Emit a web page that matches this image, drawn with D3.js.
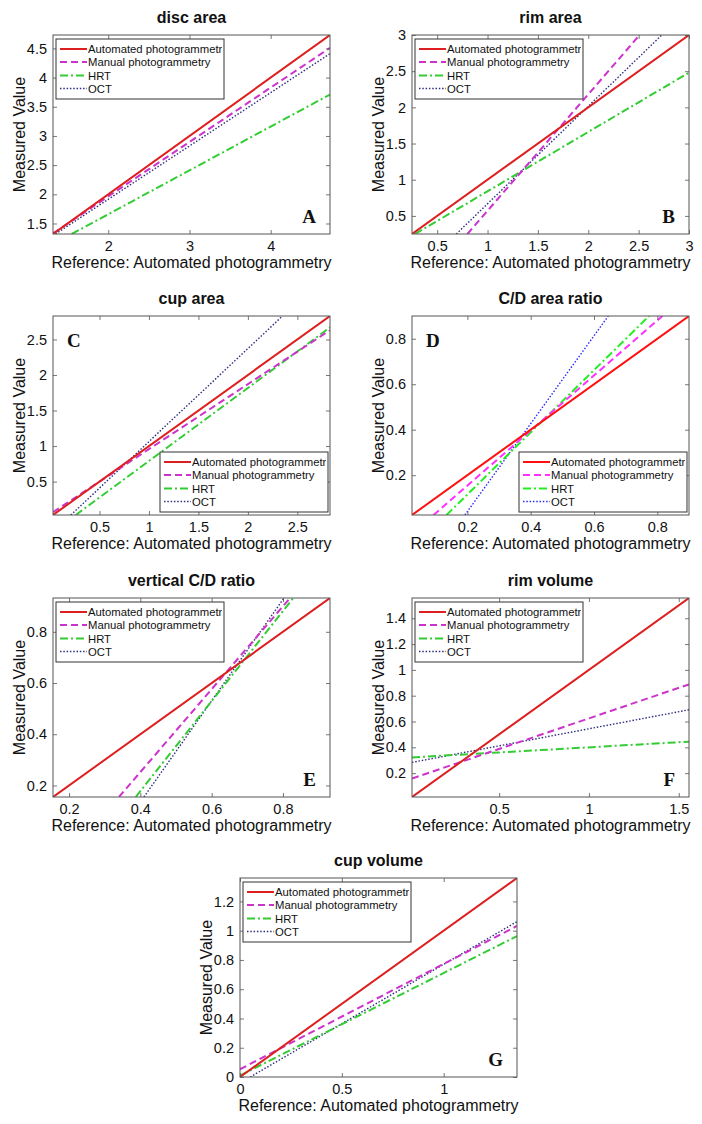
<!DOCTYPE html>
<html>
<head>
<meta charset="utf-8">
<script src="https://cdn.jsdelivr.net/npm/d3@7"></script>
<style>
  html, body { margin: 0; padding: 0; background: #fff; }
  svg { display: block; }
  text { font-family: "Liberation Sans", Arial, Helvetica, sans-serif; }
</style>
</head>
<body>
<svg id="chart" width="702" height="1124"></svg>
<script>
// ---------------- DATA ----------------
const titles = ["disc area", "rim area", "cup area", "C/D area ratio", "vertical C/D ratio", "rim volume", "cup volume"];
const letters = ["A", "B", "C", "D", "E", "F", "G"];
const seriesNames = ["Automated photogrammetry", "Manual photogrammetry", "HRT", "OCT"];

// axis domains (same range on x and y)
const domains = [[1.32, 4.73], [0.25, 3.0], [0.03, 2.83], [0.025, 0.9], [0.155, 0.932], [0.015, 1.557], [0, 1.36]];

const xTicks = [
  [2, 3, 4],
  [0.5, 1, 1.5, 2, 2.5, 3],
  [0.5, 1, 1.5, 2, 2.5],
  [0.2, 0.4, 0.6, 0.8],
  [0.2, 0.4, 0.6, 0.8],
  [0.5, 1, 1.5],
  [0, 0.5, 1]
];
const yTicks = [
  [1.5, 2, 2.5, 3, 3.5, 4, 4.5],
  [0.5, 1, 1.5, 2, 2.5, 3],
  [0.5, 1, 1.5, 2, 2.5],
  [0.2, 0.4, 0.6, 0.8],
  [0.2, 0.4, 0.6, 0.8],
  [0.2, 0.4, 0.6, 0.8, 1, 1.2, 1.4],
  [0, 0.2, 0.4, 0.6, 0.8, 1, 1.2]
];

// endpoints [[x0,y0],[x1,y1]] of each regression line, per panel
const automatedLine = [
  [[1.32, 1.32], [4.73, 4.73]],
  [[0.25, 0.25], [3.0, 3.0]],
  [[0.03, 0.03], [2.83, 2.83]],
  [[0.025, 0.025], [0.9, 0.9]],
  [[0.155, 0.155], [0.932, 0.932]],
  [[0.015, 0.015], [1.557, 1.557]],
  [[0, 0], [1.36, 1.36]]
];
const manualLine = [
  [[1.32, 1.33], [4.73, 4.51]],
  [[0.80, 0.25], [2.51, 3.0]],
  [[0.03, 0.07], [2.83, 2.63]],
  [[0.093, 0.025], [0.816, 0.9]],
  [[0.34, 0.155], [0.82, 0.932]],
  [[0.015, 0.158], [1.557, 0.888]],
  [[0, 0.053], [1.36, 1.032]]
];
const hrtLine = [
  [[1.55, 1.32], [4.73, 3.71]],
  [[0.28, 0.25], [3.0, 2.48]],
  [[0.26, 0.03], [2.83, 2.67]],
  [[0.134, 0.025], [0.774, 0.9]],
  [[0.387, 0.155], [0.829, 0.932]],
  [[0.015, 0.322], [1.557, 0.444]],
  [[0, 0.01], [1.36, 0.963]]
];
const octLine = [
  [[1.35, 1.32], [4.73, 4.41]],
  [[0.69, 0.25], [2.73, 3.0]],
  [[0.21, 0.03], [2.35, 2.83]],
  [[0.192, 0.025], [0.645, 0.9]],
  [[0.41, 0.155], [0.803, 0.932]],
  [[0.015, 0.283], [1.557, 0.691]],
  [[0.05, 0], [1.36, 1.062]]
];

// ---------------- LAYOUT / STYLE ----------------
const W = 277, H = 199;
const boxes = [
  { l: 53, t: 35 }, { l: 412, t: 35 },
  { l: 53, t: 316 }, { l: 412, t: 316 },
  { l: 53, t: 598 }, { l: 412, t: 598 },
  { l: 240, t: 878 }
];
const legendAtBottom = [false, false, true, true, false, false, false];
const letterTop = [false, false, true, true, false, false, false];

const styleDefault = [
  { color: "#dd1f1f", width: 2, dash: null },
  { color: "#cc33cc", width: 2, dash: "7,4" },
  { color: "#33cc33", width: 2, dash: "8,3,2,3" },
  { color: "#2e2e80", width: 1.4, dash: "1.5,1.8" }
];
const styleD = [
  { color: "#ff1010", width: 2, dash: null },
  { color: "#ff30ff", width: 2, dash: "7,4" },
  { color: "#22ee22", width: 2, dash: "8,3,2,3" },
  { color: "#2a2aff", width: 1.4, dash: "1.5,1.8" }
];

const svg = d3.select("#chart");
svg.append("rect").attr("width", 702).attr("height", 1124).attr("fill", "#fff");

const fmt = d3.format("~g");
const lineSets = [automatedLine, manualLine, hrtLine, octLine];

titles.forEach((title, i) => {
  const b = boxes[i];
  const dom = domains[i];
  const x = d3.scaleLinear().domain(dom).range([0, W]);
  const y = d3.scaleLinear().domain(dom).range([H, 0]);
  const styles = i === 3 ? styleD : styleDefault;

  const g = svg.append("g").attr("transform", `translate(${b.l},${b.t})`);

  const clipId = "clip" + i;
  g.append("clipPath").attr("id", clipId)
    .append("rect").attr("width", W).attr("height", H);

  const lg = g.append("g").attr("clip-path", `url(#${clipId})`);
  const lineGen = d3.line().x(d => x(d[0])).y(d => y(d[1]));
  [3, 2, 1, 0].forEach(s => {
    const st = styles[s];
    lg.append("path")
      .attr("d", lineGen(lineSets[s][i]))
      .attr("fill", "none")
      .attr("stroke", st.color)
      .attr("stroke-width", st.width)
      .attr("stroke-dasharray", st.dash);
  });

  const axB = d3.axisBottom(x).tickValues(xTicks[i]).tickFormat(fmt).tickSizeInner(-4).tickSizeOuter(0).tickPadding(7);
  const axL = d3.axisLeft(y).tickValues(yTicks[i]).tickFormat(fmt).tickSizeInner(-4).tickSizeOuter(0).tickPadding(6);
  const axT = d3.axisTop(x).tickValues(xTicks[i]).tickFormat("").tickSizeInner(-4).tickSizeOuter(0);
  const axR = d3.axisRight(y).tickValues(yTicks[i]).tickFormat("").tickSizeInner(-4).tickSizeOuter(0);

  const gb = g.append("g").attr("transform", `translate(0,${H})`).call(axB);
  const gl = g.append("g").call(axL);
  const gt = g.append("g").call(axT);
  const gr = g.append("g").attr("transform", `translate(${W},0)`).call(axR);
  [gb, gl, gt, gr].forEach(a => {
    a.select(".domain").remove();
    a.selectAll(".tick line").attr("stroke", "#555").attr("stroke-width", 0.8);
    a.selectAll(".tick text")
      .attr("fill", "#111")
      .style("font-size", "14.5px")
      .style("font-family", "'Liberation Sans', Arial, sans-serif");
  });

  g.append("rect").attr("width", W).attr("height", H)
    .attr("fill", "none").attr("stroke", "#555").attr("stroke-width", 1);

  g.append("text").attr("x", W / 2).attr("y", -12)
    .attr("text-anchor", "middle")
    .style("font-size", "16px").style("font-weight", "bold")
    .attr("fill", "#111")
    .text(title);

  g.append("text").attr("x", W / 2).attr("y", H + 34)
    .attr("text-anchor", "middle")
    .style("font-size", "16px").attr("fill", "#111")
    .text("Reference: Automated photogrammetry");
  g.append("text")
    .attr("transform", `translate(-28,${H / 2}) rotate(-90)`)
    .attr("text-anchor", "middle")
    .style("font-size", "16px").attr("fill", "#111")
    .text("Measured Value");

  const lt = g.append("text")
    .style("font-family", "'Liberation Serif', 'Times New Roman', serif")
    .style("font-weight", "bold").style("font-size", "19px")
    .attr("fill", "#111")
    .text(letters[i]);
  if (letterTop[i]) {
    lt.attr("x", 14).attr("y", 31).attr("text-anchor", "start");
  } else {
    lt.attr("x", W - 14).attr("y", H - 11).attr("text-anchor", "end");
  }

  const LW = 168, LH = 60;
  const lx = legendAtBottom[i] ? W - LW - 2 : 3;
  const ly = legendAtBottom[i] ? H - LH - 3 : 4;
  const leg = g.append("g").attr("transform", `translate(${lx},${ly})`);
  const lclip = "lclip" + i;
  leg.append("clipPath").attr("id", lclip)
    .append("rect").attr("width", LW - 2).attr("height", LH);
  leg.append("rect").attr("width", LW).attr("height", LH)
    .attr("fill", "#fff").attr("stroke", "#333").attr("stroke-width", 1);
  const rows = [10, 23, 36.5, 49.5];
  seriesNames.forEach((name, s) => {
    const st = styles[s];
    leg.append("line")
      .attr("x1", 4).attr("x2", 31)
      .attr("y1", rows[s]).attr("y2", rows[s])
      .attr("stroke", st.color).attr("stroke-width", st.width)
      .attr("stroke-dasharray", st.dash);
    leg.append("text")
      .attr("x", 32).attr("y", rows[s] + 4)
      .attr("clip-path", `url(#${lclip})`)
      .style("font-size", "11.3px").attr("fill", "#111")
      .text(name);
  });
});
</script>
</body>
</html>
